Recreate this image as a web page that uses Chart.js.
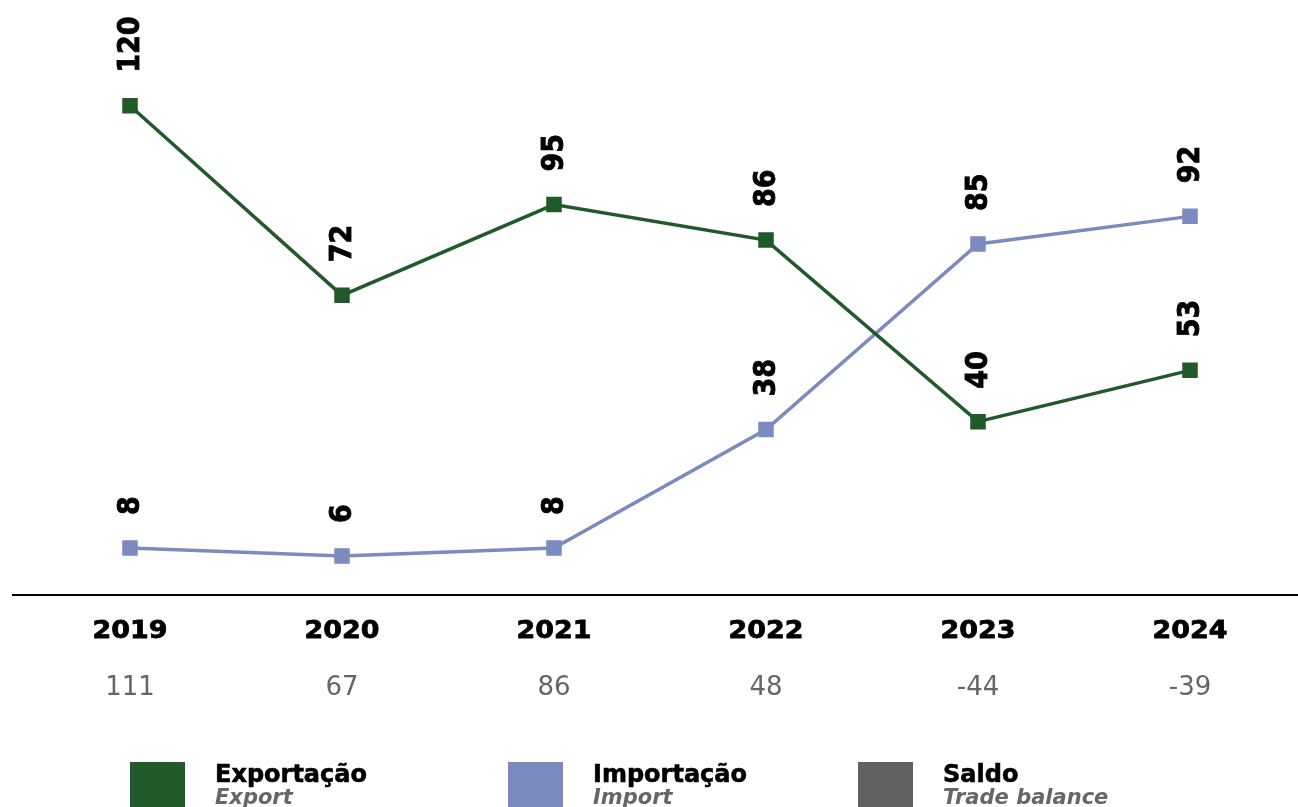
<!DOCTYPE html>
<html>
<head>
<meta charset="utf-8">
<script src="https://cdn.jsdelivr.net/npm/chart.js@4"></script>
<style>
  html, body { margin: 0; padding: 0; background: #fff; }
  #wrap { width: 1298px; height: 807px; }
</style>
</head>
<body>
<div id="wrap"><canvas id="myChart"></canvas></div>
<script>
// data
const years = ['2019', '2020', '2021', '2022', '2023', '2024'];
const exportValues = [120, 72, 95, 86, 40, 53];
const importValues = [8, 6, 8, 38, 85, 92];
const balanceValues = ['111', '67', '86', '48', '-44', '-39'];
const legendMain = ['Exportação', 'Importação', 'Saldo'];
const legendSub = ['Export', 'Import', 'Trade balance'];

const green = '#215a2a';
const blue = '#7b8abf';
const grey = '#616161';
const legendColors = [green, blue, grey];

// fill + thin stroke so the bold text looks a bit heavier
function heavyText(ctx, txt, x, y, w) {
  ctx.lineWidth = w;
  ctx.strokeStyle = ctx.fillStyle;
  ctx.strokeText(txt, x, y);
  ctx.fillText(txt, x, y);
}

// rotated value labels above each point
const pointLabels = {
  id: 'pointLabels',
  afterDatasetsDraw(chart) {
    const ctx = chart.ctx;
    ctx.save();
    ctx.font = 'bold 27px "DejaVu Sans"';
    ctx.fillStyle = '#000';
    ctx.textAlign = 'left';
    ctx.textBaseline = 'middle';
    chart.data.datasets.forEach((ds, i) => {
      chart.getDatasetMeta(i).data.forEach((pt, j) => {
        ctx.save();
        ctx.translate(pt.x + 1, pt.y - 33);
        ctx.rotate(-Math.PI / 2);
        ctx.scale(1, 1.12);
        heavyText(ctx, String(ds.data[j]), 0, 0, 0.8);
        ctx.restore();
      });
    });
    ctx.restore();
  }
};

// axis line, year labels, balance row and legend
const extras = {
  id: 'extras',
  afterDraw(chart) {
    const ctx = chart.ctx;
    const x = chart.scales.x;
    const base = chart.chartArea.bottom;
    ctx.save();
    ctx.strokeStyle = '#000';
    ctx.lineWidth = 2;
    ctx.beginPath();
    ctx.moveTo(12, base);
    ctx.lineTo(1298, base);
    ctx.stroke();

    ctx.textAlign = 'center';
    ctx.textBaseline = 'middle';
    years.forEach((y, i) => {
      const px = x.getPixelForValue(i);
      ctx.fillStyle = '#000';
      ctx.font = 'bold 24px "DejaVu Sans"';
      ctx.save();
      ctx.translate(px, base + 37);
      ctx.scale(1.12, 1);
      heavyText(ctx, y, 0, 0, 0.8);
      ctx.restore();
      ctx.fillStyle = '#666';
      ctx.font = '26px "DejaVu Sans"';
      ctx.fillText(balanceValues[i], px, base + 93);
    });

    const boxX = [130, 508, 858];
    ctx.textAlign = 'left';
    ctx.textBaseline = 'alphabetic';
    legendMain.forEach((t, i) => {
      ctx.fillStyle = legendColors[i];
      ctx.fillRect(boxX[i], 762, 55, 45);
      ctx.fillStyle = '#000';
      ctx.font = 'bold 24px "DejaVu Sans"';
      heavyText(ctx, t, boxX[i] + 85, 782, 0.6);
      ctx.fillStyle = '#666';
      ctx.font = 'italic bold 21px "DejaVu Sans"';
      ctx.fillText(legendSub[i], boxX[i] + 85, 804);
    });
    ctx.restore();
  }
};

const ctx = document.getElementById('myChart').getContext('2d');
const myChart = new Chart(ctx, {
  type: 'line',
  data: {
    labels: years,
    datasets: [
      {
        label: legendMain[0],
        data: exportValues,
        borderColor: green,
        backgroundColor: green,
        borderWidth: 3.5,
        pointStyle: 'rect',
        pointRadius: 8.5,
        pointHoverRadius: 8.5,
        tension: 0,
        clip: false
      },
      {
        label: legendMain[1],
        data: importValues,
        borderColor: blue,
        backgroundColor: blue,
        borderWidth: 3.5,
        pointStyle: 'rect',
        pointRadius: 8.5,
        pointHoverRadius: 8.5,
        tension: 0,
        clip: false
      }
    ]
  },
  options: {
    responsive: true,
    maintainAspectRatio: false,
    animation: false,
    layout: {
      autoPadding: false,
      padding: { left: 24, right: 2, top: 0, bottom: 212 }
    },
    scales: {
      x: { display: false, offset: true },
      y: { display: false, min: -3.9, max: 146.8 }
    },
    plugins: {
      legend: { display: false },
      tooltip: { enabled: false }
    }
  },
  plugins: [pointLabels, extras]
});
</script>
</body>
</html>
